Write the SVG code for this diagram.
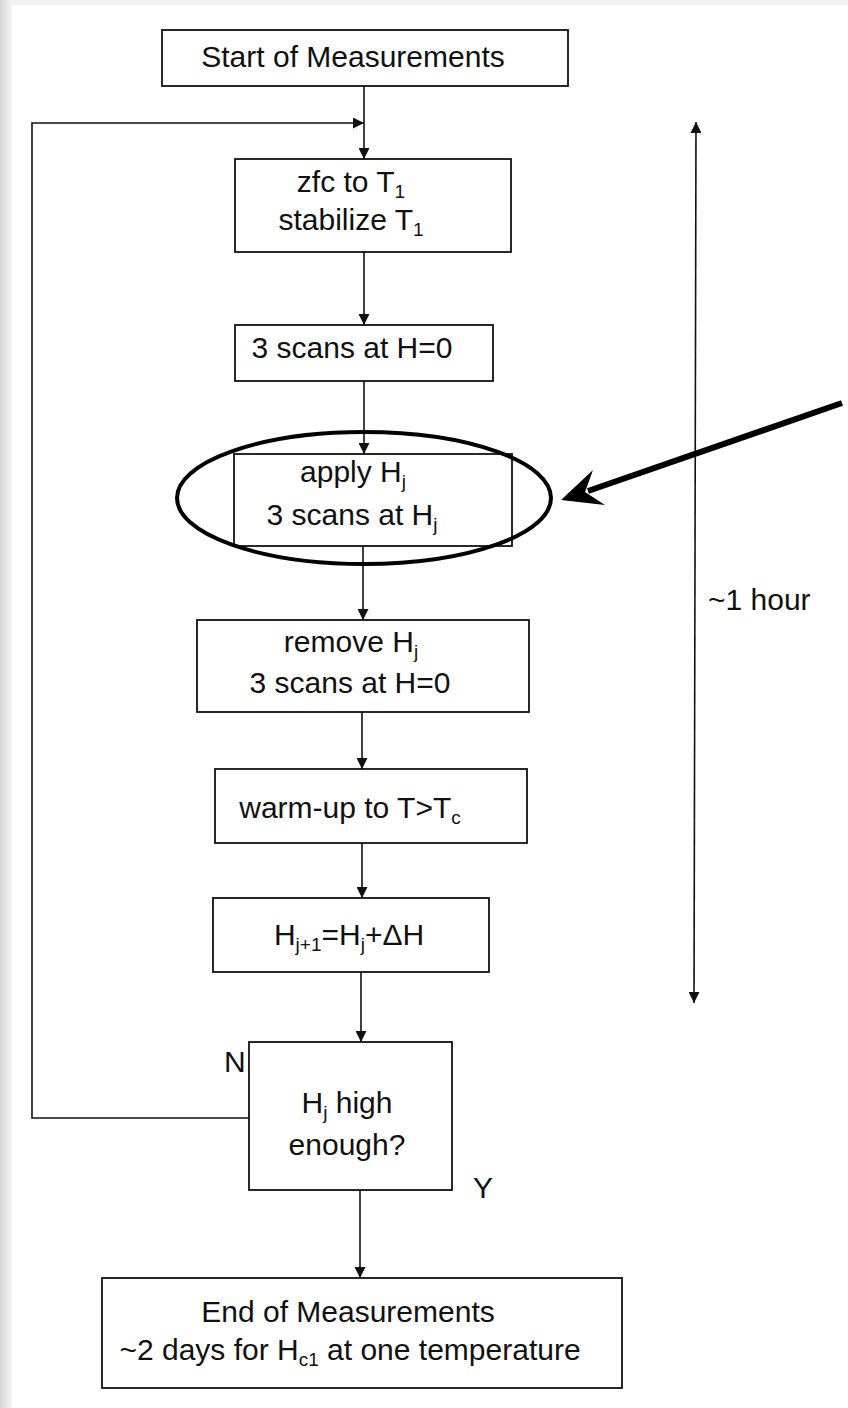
<svg xmlns="http://www.w3.org/2000/svg" width="848" height="1408" viewBox="0 0 848 1408">
<defs>
<style>
.box{fill:#fff;stroke:#111;stroke-width:1.8}
.t{font-family:"Liberation Sans",Arial,sans-serif;font-size:30px;fill:#111;text-anchor:middle}
.lbl{font-family:"Liberation Sans",Arial,sans-serif;font-size:30px;fill:#111}
.sub{font-size:19px}
.c{fill:none;stroke:#111;stroke-width:1.6}
</style>
<marker id="ah" viewBox="0 0 10 10" refX="10" refY="5" markerWidth="11" markerHeight="11" markerUnits="userSpaceOnUse" orient="auto-start-reverse">
<path d="M0,0 L10,5 L0,10 z" fill="#111"/>
</marker>
<linearGradient id="lg" x1="0" y1="0" x2="1" y2="0">
<stop offset="0" stop-color="#d6d6d6"/>
<stop offset="1" stop-color="#f4f4f4"/>
</linearGradient>
</defs>
<rect width="848" height="1408" fill="#fff"/>
<rect x="0" y="0" width="848" height="5" fill="#f2f2f2"/>
<rect x="0" y="0" width="12" height="1408" fill="url(#lg)"/>

<g id="connectors">
<line class="c" x1="364" y1="86" x2="364" y2="159" marker-end="url(#ah)"/>
<polyline class="c" points="249,1118 32,1118 32,123 364,123" marker-end="url(#ah)"/>
<line class="c" x1="364" y1="252" x2="364" y2="325" marker-end="url(#ah)"/>
<line class="c" x1="364" y1="381" x2="364" y2="454" marker-end="url(#ah)"/>
<line class="c" x1="363" y1="546" x2="363" y2="620" marker-end="url(#ah)"/>
<line class="c" x1="362" y1="712" x2="362" y2="769" marker-end="url(#ah)"/>
<line class="c" x1="362" y1="843" x2="362" y2="898" marker-end="url(#ah)"/>
<line class="c" x1="361" y1="972" x2="361" y2="1042" marker-end="url(#ah)"/>
<line class="c" x1="360" y1="1190" x2="360" y2="1278" marker-end="url(#ah)"/>
<line class="c" x1="696" y1="122" x2="694" y2="1003" marker-start="url(#ah)" marker-end="url(#ah)"/>
<line x1="842" y1="403" x2="588" y2="491" stroke="#000" stroke-width="6"/>
<polygon points="561,500 593,470 585,492 605,505" fill="#000"/>
</g>

<g id="start">
<rect class="box" x="162" y="30" width="406" height="56"/>
<text class="t" x="353" y="67">Start of Measurements</text>
</g>

<g id="zfc">
<rect class="box" x="235" y="159" width="276" height="93"/>
<text class="t" x="351" y="192">zfc to T<tspan class="sub" dy="6">1</tspan></text>
<text class="t" x="351" y="230">stabilize T<tspan class="sub" dy="6">1</tspan></text>
</g>

<g id="scans0">
<rect class="box" x="235" y="325" width="258" height="56"/>
<text class="t" x="352" y="358">3 scans at H=0</text>
</g>

<g id="apply">
<rect class="box" x="234" y="454" width="278" height="92"/>
<text class="t" x="353" y="482">apply H<tspan class="sub" dy="6">j</tspan></text>
<text class="t" x="352" y="525">3 scans at H<tspan class="sub" dy="6">j</tspan></text>
<ellipse cx="364" cy="498" rx="187" ry="66" fill="none" stroke="#000" stroke-width="4"/>
</g>

<g id="remove">
<rect class="box" x="197" y="620" width="332" height="92"/>
<text class="t" x="351" y="652">remove H<tspan class="sub" dy="6">j</tspan></text>
<text class="t" x="350" y="693">3 scans at H=0</text>
</g>

<g id="warm">
<rect class="box" x="215" y="769" width="312" height="74"/>
<text class="t" x="350" y="818">warm-up to T&gt;T<tspan class="sub" dy="6">c</tspan></text>
</g>

<g id="hstep">
<rect class="box" x="213" y="898" width="276" height="74"/>
<text class="t" x="349" y="945">H<tspan class="sub" dy="6">j+1</tspan><tspan dy="-6">=H</tspan><tspan class="sub" dy="6">j</tspan><tspan dy="-6">+ΔH</tspan></text>
</g>

<g id="decision">
<rect class="box" x="249" y="1042" width="203" height="148"/>
<text class="t" x="347" y="1113">H<tspan class="sub" dy="6">j</tspan><tspan dy="-6"> high</tspan></text>
<text class="t" x="347" y="1155">enough?</text>
<text class="lbl" x="224" y="1072">N</text>
<text class="lbl" x="473" y="1198">Y</text>
</g>

<g id="end">
<rect class="box" x="102" y="1278" width="520" height="110"/>
<text class="t" x="348" y="1322">End of Measurements</text>
<text class="t" x="350" y="1360">~2 days for H<tspan class="sub" dy="6">c1</tspan><tspan dy="-6"> at one temperature</tspan></text>
</g>

<g id="duration">
<text class="lbl" x="708" y="610">~1 hour</text>
</g>
</svg>
